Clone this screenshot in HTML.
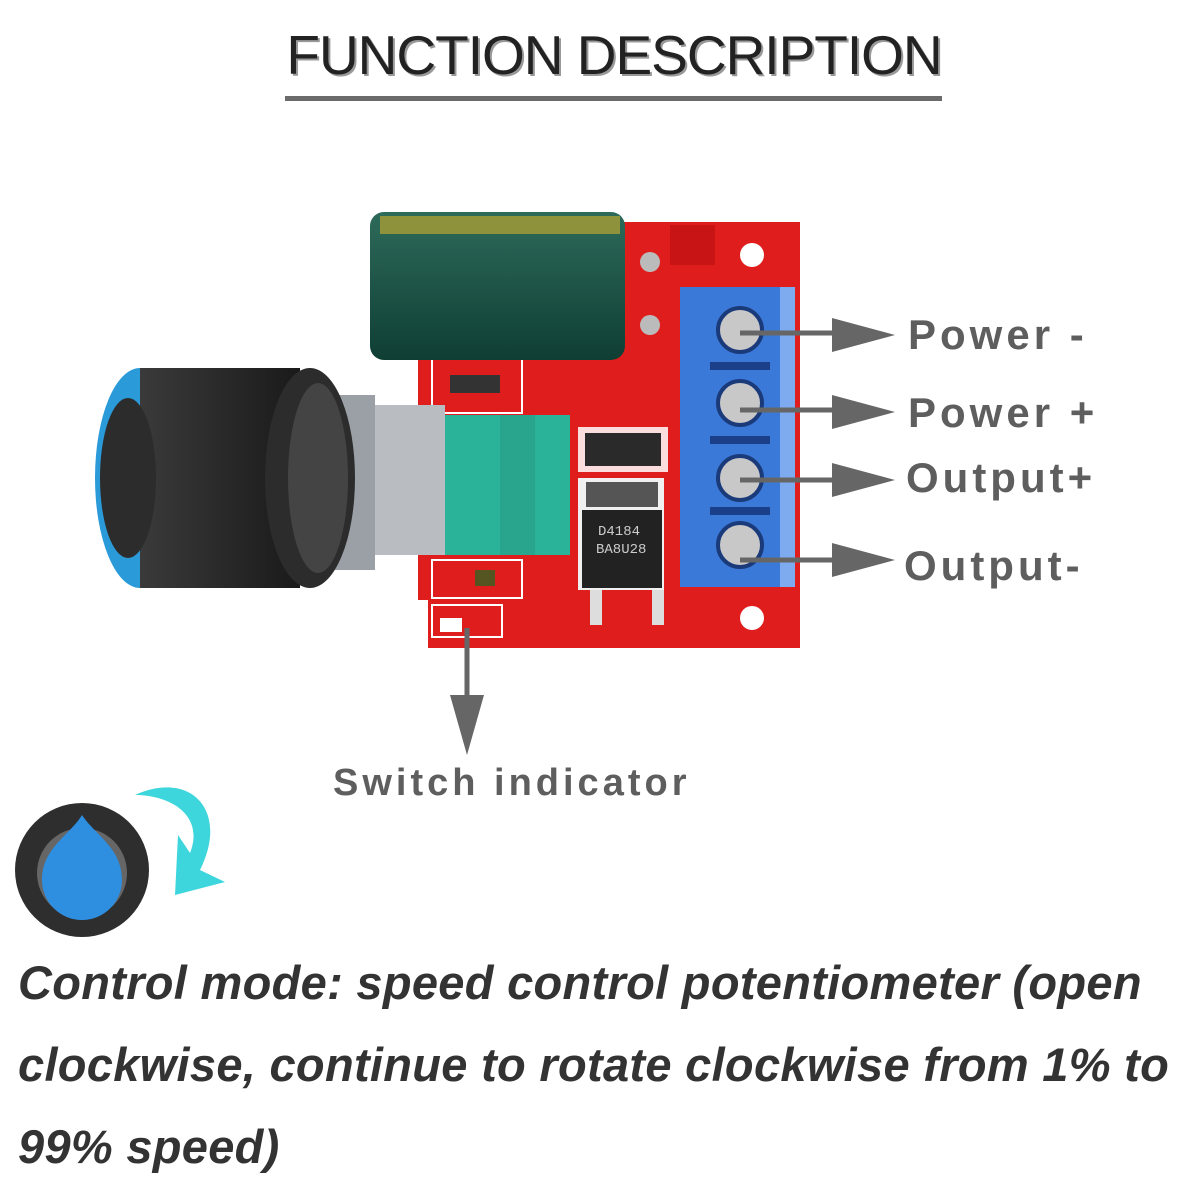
<!DOCTYPE html>
<html><head><meta charset="utf-8"><style>
html,body{margin:0;padding:0;background:#fff;}
body{width:1200px;height:1200px;overflow:hidden;position:relative;font-family:"Liberation Sans",sans-serif;}
.t{position:absolute;white-space:nowrap;}
.l{font-size:42px;font-weight:bold;color:#5e5e5e;letter-spacing:4px}
</style></head><body>
<svg width="1200" height="1200" style="position:absolute;left:0;top:0">
<defs>
<linearGradient id="knob" x1="0" x2="1"><stop offset="0" stop-color="#3a3a3a"/><stop offset="0.5" stop-color="#2a2a2a"/><stop offset="1" stop-color="#1a1a1a"/></linearGradient>
<linearGradient id="cap" x1="0" x2="0" y1="0" y2="1"><stop offset="0" stop-color="#2d6a5a"/><stop offset="1" stop-color="#0f3e34"/></linearGradient>
</defs>
<rect x="285" y="96" width="657" height="5" fill="#6b6b6b"/>
<polygon points="418,222 800,222 800,648 428,648 428,600 418,600" fill="#e01d1d"/>
<rect x="670" y="225" width="45" height="40" fill="#c81414"/>
<circle cx="752" cy="255" r="12" fill="#fff"/>
<circle cx="752" cy="618" r="12" fill="#fff"/>
<rect x="432" y="358" width="90" height="55" fill="none" stroke="#fff" stroke-width="2"/>
<rect x="450" y="375" width="50" height="18" fill="#333"/>
<rect x="578" y="427" width="90" height="45" fill="#fff" opacity="0.85"/>
<rect x="585" y="433" width="76" height="33" fill="#2a2a2a"/>
<rect x="578" y="478" width="86" height="112" fill="#f0f0f0"/>
<rect x="582" y="510" width="80" height="78" fill="#222"/>
<rect x="586" y="482" width="72" height="25" fill="#555"/>
<text x="598" y="535" font-size="14" fill="#ccc" font-family="Liberation Mono">D4184</text>
<text x="596" y="553" font-size="14" fill="#ccc" font-family="Liberation Mono">BA8U28</text>
<rect x="590" y="590" width="12" height="35" fill="#ddd"/>
<rect x="652" y="590" width="12" height="35" fill="#ddd"/>
<rect x="432" y="560" width="90" height="38" fill="none" stroke="#fff" stroke-width="2"/>
<rect x="432" y="605" width="70" height="32" fill="none" stroke="#fff" stroke-width="2"/>
<rect x="440" y="618" width="22" height="14" fill="#fff"/>
<rect x="475" y="570" width="20" height="16" fill="#552"/>
<rect x="370" y="212" width="255" height="148" rx="14" fill="url(#cap)"/>
<rect x="380" y="216" width="240" height="18" fill="#b9a530" opacity="0.7"/>
<circle cx="650" cy="262" r="10" fill="#bbb"/>
<circle cx="650" cy="325" r="10" fill="#bbb"/>
<rect x="680" y="287" width="115" height="300" fill="#3b79d8"/>
<rect x="780" y="287" width="15" height="300" fill="#7eaaf0"/>
<g fill="#1c3f8a"><rect x="710" y="362" width="60" height="8"/><rect x="710" y="436" width="60" height="8"/><rect x="710" y="507" width="60" height="8"/></g>
<g fill="#c8c8c8" stroke="#1a3a7a" stroke-width="4">
<circle cx="740" cy="330" r="22"/><circle cx="740" cy="403" r="22"/><circle cx="740" cy="478" r="22"/><circle cx="740" cy="545" r="22"/></g>
<rect x="365" y="405" width="80" height="150" fill="#b9bcc0"/>
<rect x="445" y="415" width="125" height="140" fill="#2bb39a"/>
<rect x="500" y="415" width="35" height="140" fill="#29a58e"/>
<rect x="330" y="395" width="45" height="175" fill="#9aa0a6"/>
<ellipse cx="140" cy="478" rx="45" ry="110" fill="#2b9ad8"/>
<rect x="140" y="368" width="160" height="220" fill="url(#knob)"/>
<ellipse cx="310" cy="478" rx="45" ry="110" fill="#2c2c2c"/>
<ellipse cx="318" cy="478" rx="30" ry="95" fill="#444"/>
<ellipse cx="128" cy="478" rx="28" ry="80" fill="#2c2c2c"/>
<g stroke="#666" stroke-width="5" fill="#666">
<line x1="740" y1="333" x2="840" y2="333"/><line x1="740" y1="410" x2="840" y2="410"/>
<line x1="740" y1="480" x2="840" y2="480"/><line x1="740" y1="560" x2="840" y2="560"/>
<line x1="467" y1="628" x2="467" y2="700"/>
</g>
<g fill="#666">
<polygon points="832,318 895,335 832,352"/>
<polygon points="832,395 895,412 832,429"/>
<polygon points="832,463 895,480 832,497"/>
<polygon points="832,543 895,560 832,577"/>
<polygon points="450,695 467,755 484,695"/>
</g>
<circle cx="82" cy="870" r="67" fill="#2e2e2e"/>
<circle cx="82" cy="873" r="45" fill="#666"/>
<path d="M82,815 C95,835 122,848 122,880 A40,40 0 0 1 42,880 C42,848 70,835 82,815 Z" fill="#2e8ee0"/>
<path d="M135,795 C190,770 230,810 200,870 L225,882 L175,895 L178,835 L190,853 C205,815 170,795 135,795 Z" fill="#3cd6dc"/>
</svg>
<div class="t" style="left:0;width:1228px;text-align:center;top:23px;font-size:55px;color:#222;text-shadow:2px 2px 0 #999;letter-spacing:-1px">FUNCTION DESCRIPTION</div>
<div class="t l" style="left:908px;top:311px">Power -</div>
<div class="t l" style="left:908px;top:389px">Power +</div>
<div class="t l" style="left:906px;top:454px">Output+</div>
<div class="t l" style="left:904px;top:542px">Output-</div>
<div class="t" style="left:333px;top:762px;font-size:38px;font-weight:bold;color:#5e5e5e;letter-spacing:4px">Switch indicator</div>
<div class="t" style="left:18px;top:942px;font-size:47px;font-weight:bold;font-style:italic;color:#333;line-height:82px;letter-spacing:0.3px">Control mode: speed control potentiometer (open<br>clockwise, continue to rotate clockwise from 1% to<br>99% speed)</div>
</body></html>
